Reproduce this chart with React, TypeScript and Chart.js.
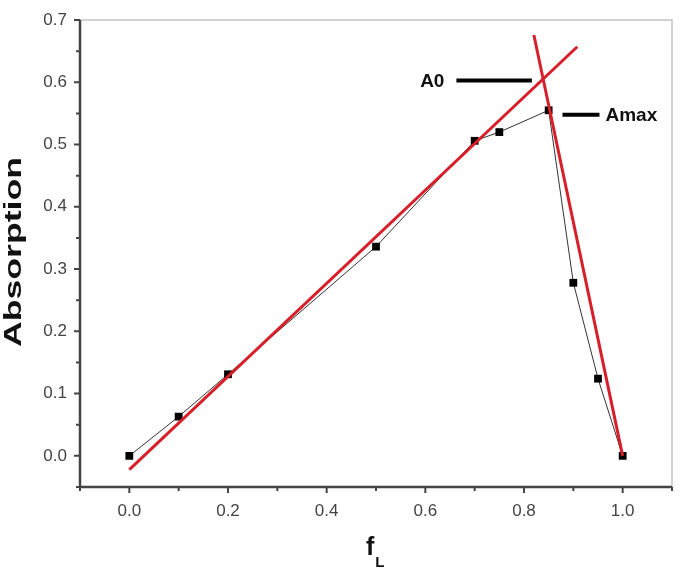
import React, { useEffect, useRef } from "react";
import { Chart, registerables } from "chart.js";

Chart.register(...registerables);

// ---- data ----
const fL: number[] = [0, 0.1, 0.2, 0.5, 0.7, 0.75, 0.85, 0.9, 0.95, 1.0];
const absorption: number[] = [0.0, 0.063, 0.131, 0.336, 0.506, 0.52, 0.555, 0.278, 0.124, 0.0];

// linear fits (end points)
const fitRiseX: number[] = [0.0, 0.908];
const fitRiseY: number[] = [-0.022, 0.657];
const fitFallX: number[] = [0.82, 1.0];
const fitFallY: number[] = [0.676, 0.0];

// annotation markers
const a0LineX: number[] = [0.663, 0.816];
const a0Value = 0.603;
const amaxLineX: number[] = [0.878, 0.953];
const amaxValue = 0.548;
const annotationLabels: string[] = ["A0", "Amax"];

const xTickValues: number[] = [-0.1, 0, 0.1, 0.2, 0.3, 0.4, 0.5, 0.6, 0.7, 0.8, 0.9, 1.0, 1.1];
const yTickValues: number[] = [-0.05, 0, 0.05, 0.1, 0.15, 0.2, 0.25, 0.3, 0.35, 0.4, 0.45, 0.5, 0.55, 0.6, 0.65, 0.7];

const xTitle = "f";
const xTitleSub = "L";
const yTitle = "Absorption";

const FONT = "'Liberation Sans', Arial, sans-serif";

const isMajor = (v: number, step: number) => Math.abs(v / step - Math.round(v / step)) < 1e-6;

const decorPlugin = {
  id: "decor",
  afterDraw(chart: any) {
    const ctx = chart.ctx as CanvasRenderingContext2D;
    const { left, right, top, bottom } = chart.chartArea;
    const xs = chart.scales.x;
    const ys = chart.scales.y;
    ctx.save();
    // top/right frame
    ctx.strokeStyle = "#c4c4c4";
    ctx.lineWidth = 1.5;
    ctx.beginPath();
    ctx.moveTo(left, top);
    ctx.lineTo(right, top);
    ctx.lineTo(right, bottom);
    ctx.stroke();
    // axes
    ctx.strokeStyle = "#444";
    ctx.lineWidth = 2.5;
    ctx.beginPath();
    ctx.moveTo(left, top);
    ctx.lineTo(left, bottom);
    ctx.lineTo(right, bottom);
    ctx.stroke();
    // ticks
    ctx.lineWidth = 2;
    ctx.beginPath();
    xTickValues.forEach((v) => {
      const px = xs.getPixelForValue(v);
      const len = isMajor(v, 0.2) ? 6 : 4;
      ctx.moveTo(px, bottom);
      ctx.lineTo(px, bottom + len);
    });
    yTickValues.forEach((v) => {
      const py = ys.getPixelForValue(v);
      const len = isMajor(v, 0.1) ? 6 : 4;
      ctx.moveTo(left, py);
      ctx.lineTo(left - len, py);
    });
    ctx.stroke();

    // annotation labels
    ctx.fillStyle = "#111";
    ctx.font = `bold 19px ${FONT}`;
    ctx.textBaseline = "alphabetic";
    ctx.textAlign = "right";
    ctx.fillText(annotationLabels[0], xs.getPixelForValue(a0LineX[0]) - 12, ys.getPixelForValue(a0Value) + 6.5);
    ctx.textAlign = "left";
    ctx.fillText(annotationLabels[1], xs.getPixelForValue(amaxLineX[1]) + 6, ys.getPixelForValue(amaxValue) + 6.5);

    // x title with subscript
    ctx.textAlign = "left";
    ctx.font = `bold 25px ${FONT}`;
    const fx = 366;
    const fy = 555;
    ctx.fillText(xTitle, fx, fy);
    const fw = ctx.measureText(xTitle).width;
    ctx.font = `bold 15px ${FONT}`;
    ctx.fillText(xTitleSub, fx + fw + 1, fy + 12);

    // y title (stretched along its length)
    ctx.font = `bold 23px ${FONT}`;
    const tw = ctx.measureText(yTitle).width;
    ctx.translate(21, 252);
    ctx.rotate(-Math.PI / 2);
    ctx.scale(190 / tw, 1);
    ctx.textAlign = "center";
    ctx.fillText(yTitle, 0, 0);
    ctx.restore();
  },
};

export default function App() {
  const ref = useRef<HTMLCanvasElement | null>(null);

  useEffect(() => {
    if (!ref.current) return;
    const chart = new Chart(ref.current, {
      type: "line",
      data: {
        datasets: [
          {
            label: "fit rise",
            data: fitRiseX.map((x, i) => ({ x, y: fitRiseY[i] })),
            borderColor: "#d81e28",
            borderWidth: 3,
            pointRadius: 0,
            order: 0,
          },
          {
            label: "fit fall",
            data: fitFallX.map((x, i) => ({ x, y: fitFallY[i] })),
            borderColor: "#d81e28",
            borderWidth: 3,
            pointRadius: 0,
            order: 0,
          },
          {
            label: "Absorption",
            data: fL.map((x, i) => ({ x, y: absorption[i] })),
            borderColor: "#333",
            borderWidth: 1,
            pointStyle: "rect",
            pointRadius: 5.5,
            pointBackgroundColor: "#000",
            pointBorderColor: "#000",
            pointBorderWidth: 0,
            order: 1,
          },
          {
            label: "A0",
            data: a0LineX.map((x) => ({ x, y: a0Value })),
            borderColor: "#000",
            borderWidth: 4,
            pointRadius: 0,
            order: 2,
          },
          {
            label: "Amax",
            data: amaxLineX.map((x) => ({ x, y: amaxValue })),
            borderColor: "#000",
            borderWidth: 4,
            pointRadius: 0,
            order: 2,
          },
        ],
      },
      options: {
        animation: false,
        responsive: false,
        devicePixelRatio: 1,
        layout: { padding: { left: 0, right: 9, top: 20, bottom: 0 } },
        plugins: { legend: { display: false }, tooltip: { enabled: false } },
        elements: { line: { tension: 0 } },
        scales: {
          x: {
            type: "linear",
            min: -0.1,
            max: 1.1,
            afterBuildTicks: (s: any) => {
              s.ticks = xTickValues.map((v) => ({ value: v }));
            },
            afterFit: (s: any) => {
              s.height = 83;
            },
            grid: { display: true, drawOnChartArea: false, drawTicks: true, tickLength: 6, tickColor: "rgba(0,0,0,0)" },
            border: { display: false },
            ticks: {
              padding: 8,
              color: "#444",
              font: { family: FONT, size: 17 },
              maxRotation: 0,
              autoSkip: false,
              callback: (v: any) => {
                const n = Number(v);
                return isMajor(n, 0.2) && n >= 0 && n <= 1.0001 ? n.toFixed(1) : "";
              },
            },
          },
          y: {
            type: "linear",
            min: -0.05,
            max: 0.7,
            afterBuildTicks: (s: any) => {
              s.ticks = yTickValues.map((v) => ({ value: v }));
            },
            afterFit: (s: any) => {
              s.width = 80;
            },
            grid: { display: true, drawOnChartArea: false, drawTicks: true, tickLength: 6, tickColor: "rgba(0,0,0,0)" },
            border: { display: false },
            ticks: {
              padding: 7,
              color: "#444",
              font: { family: FONT, size: 17 },
              autoSkip: false,
              callback: (v: any) => {
                const n = Number(v);
                return isMajor(n, 0.1) && n >= -0.0001 ? n.toFixed(1) : "";
              },
            },
          },
        },
      },
      plugins: [decorPlugin],
    });
    return () => chart.destroy();
  }, []);

  return (
    <div style={{ position: "absolute", left: 0, top: 0, width: 681, height: 570, background: "#fff" }}>
      <canvas ref={ref} width={681} height={570} style={{ display: "block" }} />
    </div>
  );
}
